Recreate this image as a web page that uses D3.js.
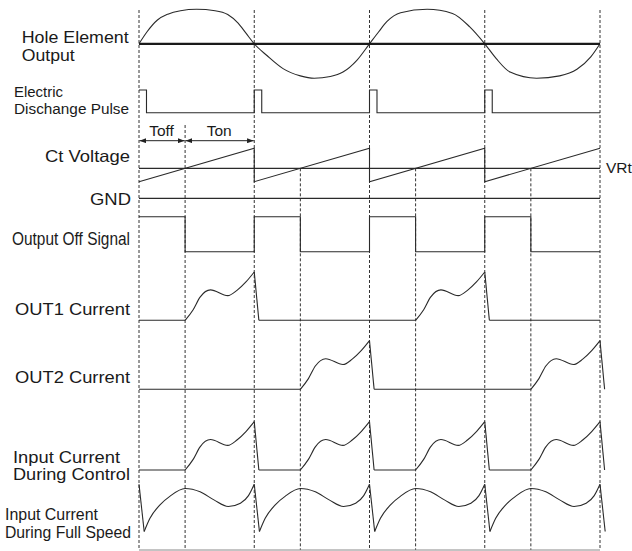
<!DOCTYPE html>
<html>
<head>
<meta charset="utf-8">
<script src="https://cdn.jsdelivr.net/npm/d3@7"></script>
<style>
  body { margin: 0; background: #fff; }
  svg text { font-family: "Liberation Sans", Arial, sans-serif; fill: #1a1a1a; }
</style>
</head>
<body>
<script>
// time is counted in half periods of the hall signal, four of them are drawn
const halfPeriods = [0, 1, 2, 3, 4];
const tOff = 0.4;          // end of Toff inside each half period
const vrtLevel = 0.4;      // VRt on the Ct ramp (ramp goes 0 -> 1)
const gndLevel = -0.5;

// hall element output, -1..1
const hallOutput = [
    [0, 0], [0.07, 0.35], [0.16, 0.69], [0.25, 0.86], [0.36, 0.96], [0.5, 1], [0.66, 0.96], [0.77, 0.85], [0.86, 0.6], [0.93, 0.3],
    [1, 0], [1.11, -0.34], [1.25, -0.72], [1.4, -0.93], [1.52, -1], [1.66, -0.95], [1.77, -0.82], [1.89, -0.48],
    [2, 0], [2.08, 0.35], [2.15, 0.64], [2.27, 0.9], [2.5, 1], [2.72, 0.88], [2.87, 0.49],
    [3, 0], [3.1, -0.43], [3.22, -0.82], [3.45, -1], [3.65, -0.93], [3.8, -0.74], [3.92, -0.38],
    [4, 0]
];

// step signals (level holds until the next point)
const dischargePulse = [[0, 1], [0.065, 0], [1, 1], [1.065, 0], [2, 1], [2.065, 0], [3, 1], [3.065, 0], [4, 0]];
const outputOff = [[0, 1], [0.4, 0], [1, 1], [1.4, 0], [2, 1], [2.4, 0], [3, 1], [3.4, 0], [4, 0]];

// Ct sawtooth
const ctVoltage = [[0, 0], [1, 1], [1, 0], [2, 1], [2, 0], [3, 1], [3, 0], [4, 1]];

// one current pulse during Ton (offset from Ton start, level 0..1)
const currentPulse = [[0, 0], [0.07, 0.22], [0.13, 0.48], [0.22, 0.63], [0.37, 0.51], [0.45, 0.62], [0.53, 0.8], [0.6, 1]];
const currentFall = 0.04;
const out1Active = [0, 2];
const out2Active = [1, 3];
const controlActive = [0, 1, 2, 3];

// input current at full speed, one half period (level 0..1)
const fullSpeedDrop = [[0, 1], [0.045, 0]];
const fullSpeedRise = [[0.045, 0], [0.095, 0.28], [0.18, 0.56], [0.27, 0.75], [0.4, 0.91], [0.53, 0.84], [0.65, 0.67], [0.775, 0.53], [0.88, 0.6], [0.95, 0.76], [1, 1]];

const rowLabels = {
    hall: ['Hole Element', 'Output'],
    pulse: ['Electric', 'Dischange Pulse'],
    ct: ['Ct Voltage'],
    gnd: ['GND'],
    off: ['Output Off Signal'],
    out1: ['OUT1 Current'],
    out2: ['OUT2 Current'],
    control: ['Input Current', 'During Control'],
    full: ['Input Current', 'During Full Speed']
};
const timeLabels = ['Toff', 'Ton'];
const vrtLabel = 'VRt';

// ---- layout ----
const width = 632;
const height = 551;
const gridTop = 10;
const gridBottom = 550;

const x = d3.scaleLinear().domain([0, 4]).range([139, 600]);

const yHall = d3.scaleLinear().domain([-1, 1]).range([78.3, 9.3]);
const yPulse = d3.scaleLinear().domain([0, 1]).range([112.7, 90]);
const yCt = d3.scaleLinear().domain([0, 1]).range([181.7, 148.3]);
const yOff = d3.scaleLinear().domain([0, 1]).range([251.7, 216.7]);
const yOut1 = d3.scaleLinear().domain([0, 1]).range([320.3, 272]);
const yOut2 = d3.scaleLinear().domain([0, 1]).range([389.3, 340.7]);
const yControl = d3.scaleLinear().domain([0, 1]).range([470, 421.7]);
const yFull = d3.scaleLinear().domain([0, 1]).range([531.5, 484.3]);

// label placement: [left x, baseline y, text width, font size]
const labelLayout = {
    hall: [[21.7, 43.3, 107, 16.5], [21.7, 60.7, 53, 16.5]],
    pulse: [[14, 97.3, 49, 15.5], [14, 114.3, 115, 15.5]],
    ct: [[45, 161.5, 85, 16.5]],
    gnd: [[90, 204.5, 41, 16.5]],
    off: [[12, 245, 118, 17.5]],
    out1: [[15, 315, 115, 16.5]],
    out2: [[15, 383, 115, 16.5]],
    control: [[13, 463, 107, 16.5], [13, 480, 117, 16.5]],
    full: [[5, 520.3, 93, 16.5], [5, 537.5, 126, 16.5]]
};

const svg = d3.select('body')
    .append('svg')
        .attr('width', width)
        .attr('height', height);

svg.append('defs')
    .append('marker')
        .attr('id', 'head')
        .attr('viewBox', '0 0 8 6')
        .attr('refX', 8)
        .attr('refY', 3)
        .attr('markerWidth', 7)
        .attr('markerHeight', 5)
        .attr('markerUnits', 'userSpaceOnUse')
        .attr('orient', 'auto-start-reverse')
    .append('path')
        .attr('d', 'M0,0 L8,3 L0,6 Z')
        .attr('fill', '#222');

// dashed time markers
const grid = svg.append('g')
    .attr('stroke', '#333')
    .attr('stroke-width', 1)
    .attr('stroke-dasharray', '3,2');

grid.selectAll('line.period')
    .data(halfPeriods)
    .enter()
        .append('line')
            .attr('class', 'period')
            .attr('x1', d => x(d))
            .attr('x2', d => x(d))
            .attr('y1', gridTop)
            .attr('y2', gridBottom);

grid.selectAll('line.toff')
    .data(halfPeriods.slice(0, 4))
    .enter()
        .append('line')
            .attr('class', 'toff')
            .attr('x1', d => x(d + tOff))
            .attr('x2', d => x(d + tOff))
            .attr('y1', (d, i) => i == 0 ? 125 : yCt(vrtLevel))
            .attr('y2', gridBottom);

// bottom rule
svg.append('line')
    .attr('x1', x(0)).attr('x2', x(4))
    .attr('y1', gridBottom).attr('y2', gridBottom)
    .attr('stroke', '#888');

const traces = svg.append('g')
    .attr('fill', 'none')
    .attr('stroke', '#2a2a2a')
    .attr('stroke-width', 1.1);

function drawTrace(pieces, y, curve) {
    const line = d3.line()
        .x(d => x(d[0]))
        .y(d => y(d[1]))
        .curve(curve);
    pieces.forEach(p => traces.append('path').attr('d', line(p)));
}

// builds baseline + pulse pieces for a current trace
function currentPieces(active) {
    const pieces = [];
    let cursor = 0;
    active.forEach(h => {
        const start = h + tOff;
        if (cursor < start) pieces.push([[cursor, 0], [start, 0]]);
        pieces.push(currentPulse.map(d => [start + d[0], d[1]]));
        pieces.push([[h + 1, 1], [h + 1 + currentFall, 0]]);
        cursor = h + 1 + currentFall;
    });
    if (cursor < 4) pieces.push([[cursor, 0], [4, 0]]);
    return pieces;
}

// hall element output
svg.append('line')
    .attr('x1', x(0)).attr('x2', x(4))
    .attr('y1', yHall(0)).attr('y2', yHall(0))
    .attr('stroke', '#1a1a1a')
    .attr('stroke-width', 2.2);
drawTrace([hallOutput], yHall, d3.curveMonotoneX);

drawTrace([dischargePulse], yPulse, d3.curveStepAfter);

// Ct voltage with VRt and GND
drawTrace([[[0, vrtLevel], [4, vrtLevel]], [[0, gndLevel], [4, gndLevel]]], yCt, d3.curveLinear);
drawTrace([ctVoltage], yCt, d3.curveLinear);

drawTrace([outputOff], yOff, d3.curveStepAfter);

drawTrace(currentPieces(out1Active), yOut1, d3.curveMonotoneX);
drawTrace(currentPieces(out2Active), yOut2, d3.curveMonotoneX);
drawTrace(currentPieces(controlActive), yControl, d3.curveMonotoneX);

const fullPieces = [];
controlActive.forEach(h => {
    fullPieces.push(fullSpeedDrop.map(d => [h + d[0], d[1]]));
    fullPieces.push(fullSpeedRise.map(d => [h + d[0], d[1]]));
});
fullPieces.push(fullSpeedDrop.map(d => [4 + d[0], d[1]]));
drawTrace(fullPieces, yFull, d3.curveMonotoneX);

// Toff / Ton arrows
const arrowY = 140.7;
const spans = [[0, tOff], [tOff, 1]];
svg.selectAll('line.span')
    .data(spans)
    .enter()
        .append('line')
            .attr('class', 'span')
            .attr('x1', d => x(d[0]) + 0.5)
            .attr('x2', d => x(d[1]) - 0.5)
            .attr('y1', arrowY)
            .attr('y2', arrowY)
            .attr('stroke', '#222')
            .attr('stroke-width', 1)
            .attr('marker-start', 'url(#head)')
            .attr('marker-end', 'url(#head)');

// labels centred over each span
svg.selectAll('text.time')
    .data(timeLabels)
    .enter()
        .append('text')
            .attr('class', 'time')
            .attr('x', (d, i) => (x(spans[i][0]) + x(spans[i][1])) / 2 - 0.5)
            .attr('y', 136.3)
            .attr('text-anchor', 'middle')
            .style('font-size', '15.5px')
            .text(d => d);

svg.append('text')
    .attr('x', 606)
    .attr('y', 172.5)
    .style('font-size', '15.5px')
    .text(vrtLabel);

// row labels
Object.keys(rowLabels).forEach(key => {
    rowLabels[key].forEach((txt, i) => {
        const [lx, ly, lw, fs] = labelLayout[key][i];
        svg.append('text')
            .attr('x', lx)
            .attr('y', ly)
            .attr('textLength', lw)
            .attr('lengthAdjust', 'spacingAndGlyphs')
            .style('font-size', fs + 'px')
            .text(txt);
    });
});
</script>
</body>
</html>
